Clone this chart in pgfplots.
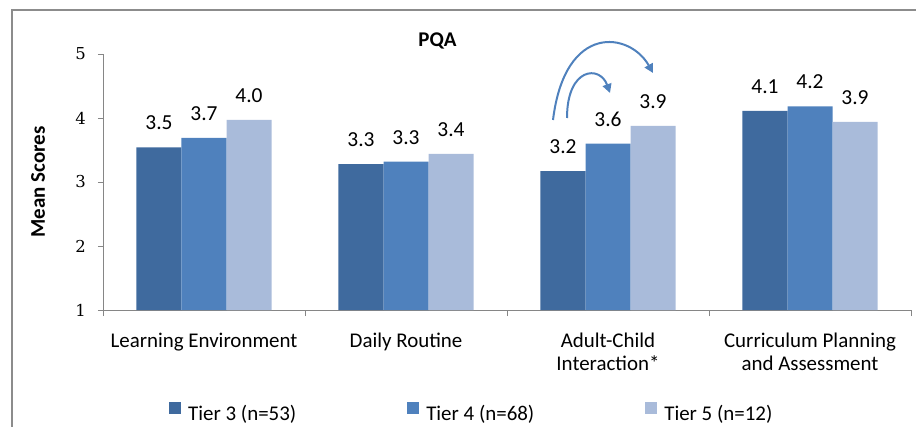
\documentclass[border=0pt]{standalone}
\usepackage{pgfplots}
\pgfplotsset{compat=1.18}
\usepackage{fontspec}
\setmainfont{Carlito}
\newfontfamily\tickfont{DejaVu Serif}
\usetikzlibrary{arrows.meta}
\definecolor{tthree}{HTML}{3F6A9E}
\definecolor{tfour}{HTML}{4F81BD}
\definecolor{tfive}{HTML}{A9BBDA}
\definecolor{axgray}{HTML}{868686}
\definecolor{framegray}{HTML}{8C8C8C}
\begin{document}
\begin{tikzpicture}
\useasboundingbox (0,0) rectangle (916bp,427bp);
\draw[framegray, line width=1.8bp] (12bp,-5bp) -- (12bp,417bp) -- (930bp,417bp);
\begin{axis}[
  at={(103bp,117bp)}, anchor=south west, scale only axis,
  width=808bp, height=256bp,
  xmin=0, xmax=4, ymin=1, ymax=5,
  ybar, bar width=0.2228,
  axis x line*=bottom, axis y line*=left,
  axis line style={axgray, line width=0.8bp, -},
  tick align=outside,
  ytick={1,2,3,4,5},
  yticklabels={1,2,3,4,5},
  major tick length=5bp,
  minor tick length=6bp,
  y tick style={axgray, line width=0.8bp},
  xtick={0.5,1.5,2.5,3.5},
  xticklabels={Learning Environment, Daily Routine, {\begin{tabular}[t]{@{}c@{}}Adult-Child\\Interaction*\end{tabular}}, {\begin{tabular}[t]{@{}c@{}}Curriculum Planning\\and Assessment\end{tabular}}},
  major x tick style={draw=none},
  minor xtick={0,1,2,3,4},
  minor x tick style={draw=axgray, line width=0.8bp},
  yticklabel style={font=\tickfont\fontsize{16.5}{16.5}\selectfont, inner sep=0pt, xshift=-12bp},
  xticklabel style={font=\fontsize{21}{24}\selectfont, anchor=base, inner sep=0pt, yshift=-32bp},
  every axis y label/.style={at={(axis description cs:-0.0804,0.5)}, anchor=center, rotate=90, font=\bfseries\fontsize{21}{21}\selectfont},
  ylabel={Mean Scores},
  title={PQA},
  title style={at={(axis description cs:0.414,1.0078)}, anchor=base, font=\bfseries\fontsize{21}{21}\selectfont, inner sep=0pt},
  nodes near coords, point meta=explicit symbolic,
  every node near coord/.append style={font=\fontsize{21.5}{21.5}\selectfont, anchor=base, yshift=17.5bp, inner sep=0pt, text=black},
  legend columns=3,
  legend image code/.code={\fill[#1] (0bp,0bp) rectangle (12bp,12bp);},
  legend style={at={(axis description cs:0.0817,-0.402)}, anchor=west, draw=none, inner sep=0pt, font=\fontsize{21}{21}\selectfont, column sep=5bp, /tikz/every even column/.append style={column sep=109bp}},
  clip=false,
]
\addplot[fill=tthree, draw=none, bar shift=-0.2228] coordinates {(0.5,3.54) [3.5] (1.5,3.28) [3.3] (2.5,3.17) [3.2] (3.5,4.11) [4.1]};
\addlegendentry{Tier 3 (n=53)}
\addplot[fill=tfour, draw=none, bar shift=0] coordinates {(0.5,3.69) [3.7] (1.5,3.32) [3.3] (2.5,3.60) [3.6] (3.5,4.18) [4.2]};
\addlegendentry{Tier 4 (n=68)}
\addplot[fill=tfive, draw=none, bar shift=0.2228] coordinates {(0.5,3.97) [4.0] (1.5,3.44) [3.4] (2.5,3.875) [3.9] (3.5,3.94) [3.9]};
\addlegendentry{Tier 5 (n=12)}
\end{axis}
\draw[tfour, line width=2bp, -{Triangle[length=9bp,width=9bp]}] (553bp,307bp) .. controls (565bp,405bp) and (630bp,395bp) .. (653bp,354bp);
\draw[tfour, line width=2bp, -{Triangle[length=9bp,width=9bp]}] (567bp,309bp) .. controls (567bp,360bp) and (600bp,362bp) .. (610bp,334bp);
\end{tikzpicture}
\end{document}
